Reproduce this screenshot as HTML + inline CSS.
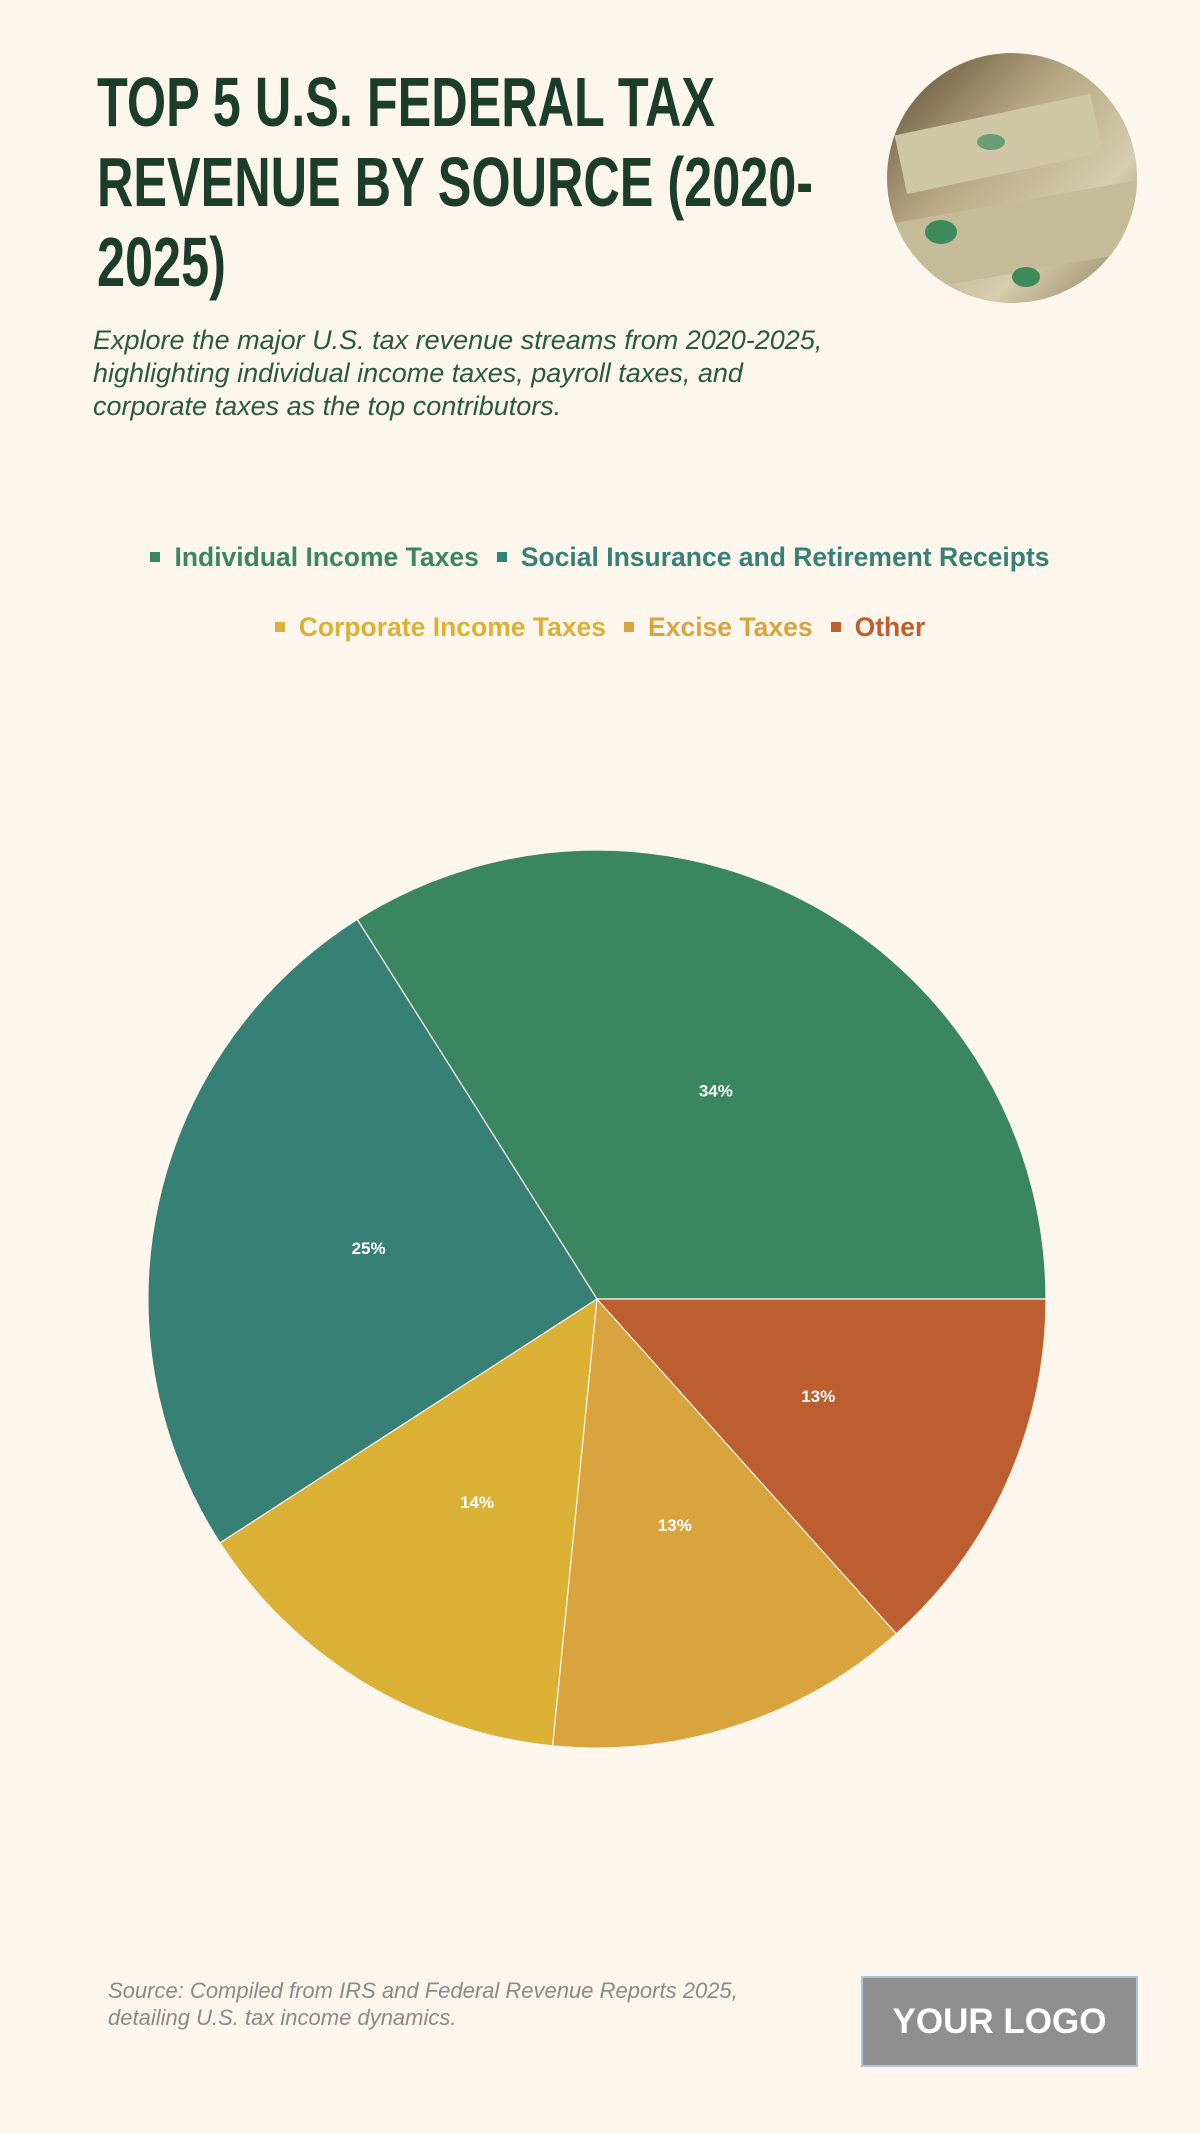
<!DOCTYPE html>
<html><head><meta charset="utf-8">
<style>
html,body{margin:0;padding:0;background:#fdf6ec;}
#page{position:relative;width:1200px;height:2133px;background:#fdf6ec;overflow:hidden;font-family:"Liberation Sans",sans-serif;}
#title{position:absolute;left:97px;top:62px;font-family:"Liberation Sans",sans-serif;font-weight:bold;font-size:70px;line-height:80px;color:#1d3d2b;margin:0;white-space:nowrap;transform:scaleX(0.72);transform-origin:0 0;}
#subtitle{position:absolute;left:93px;top:324px;width:760px;font-style:italic;font-size:27px;line-height:33px;color:#2a5a3e;margin:0;}
.leg{position:absolute;left:0;width:1200px;text-align:center;font-weight:bold;font-size:26.5px;white-space:nowrap;}
.leg span.sq{display:inline-block;width:10px;height:10px;margin-right:14px;vertical-align:middle;position:relative;top:-2px;}
#source{position:absolute;left:108px;top:1977px;font-style:italic;font-size:22px;line-height:27px;color:#8a8a8a;}
#logo{position:absolute;left:861px;top:1976px;width:273px;height:87px;background:#8f8f8f;border:2px solid #a9c4dc;color:#fff;font-weight:bold;font-size:35px;display:flex;align-items:center;justify-content:center;}
</style></head><body>
<div id="page">
<h1 id="title">TOP 5 U.S. FEDERAL TAX<br>REVENUE BY SOURCE (2020-<br>2025)</h1>
<svg style="position:absolute;left:886px;top:52px" width="252" height="252">
<defs><clipPath id="cc"><circle cx="126" cy="126" r="125"/></clipPath>
<linearGradient id="mg" x1="0" y1="0" x2="1" y2="1"><stop offset="0" stop-color="#5a4a32"/><stop offset="0.4" stop-color="#b8aa86"/><stop offset="0.7" stop-color="#d6ccae"/><stop offset="1" stop-color="#8a7a58"/></linearGradient></defs>
<g clip-path="url(#cc)"><rect width="252" height="252" fill="url(#mg)"/>
<rect x="20" y="60" width="200" height="60" fill="#cfc6a6" transform="rotate(-12 126 126)"/>
<rect x="0" y="150" width="252" height="70" fill="#c4bb98" transform="rotate(-10 126 126)"/>
<ellipse cx="55" cy="180" rx="16" ry="12" fill="#3f8a5a"/><ellipse cx="140" cy="225" rx="14" ry="10" fill="#3f8a5a"/>
<ellipse cx="105" cy="90" rx="14" ry="8" fill="#6a9c78"/></g></svg>
<p id="subtitle">Explore the major U.S. tax revenue streams from 2020-2025, highlighting individual income taxes, payroll taxes, and corporate taxes as the top contributors.</p>
<div id="legend"></div>
<svg id="chart" style="position:absolute;left:0;top:0" width="1200" height="2133"></svg>
<div id="source">Source: Compiled from IRS and Federal Revenue Reports 2025,<br>detailing U.S. tax income dynamics.</div>
<div id="logo">YOUR LOGO</div>
</div>
<script>
const categories=["Individual Income Taxes","Social Insurance and Retirement Receipts","Corporate Income Taxes","Excise Taxes","Other"];
const values=[34,25.2,14.3,13.2,13.4];
const labels=["34%","25%","14%","13%","13%"];
const colors=["#3a8660","#378076","#dbb135","#d9a33d","#bc5e30"];
const cx=597,cy=1299,R=449;
const svg=document.getElementById('chart');
const NS='http://www.w3.org/2000/svg';
const total=values.reduce((a,b)=>a+b,0);
function pt(a,r){return [cx+r*Math.cos(a),cy-r*Math.sin(a)];}
let a0=0;
values.forEach((v,i)=>{
  const a1=a0+v/total*2*Math.PI;
  const p0=pt(a0,R),p1=pt(a1,R);
  const large=(a1-a0)>Math.PI?1:0;
  const p=document.createElementNS(NS,'path');
  p.setAttribute('d',`M${cx},${cy} L${p0[0]},${p0[1]} A${R},${R} 0 ${large} 0 ${p1[0]},${p1[1]} Z`);
  p.setAttribute('fill',colors[i]);p.setAttribute('stroke','#fdf6ec');p.setAttribute('stroke-width','1.2');
  
  
  svg.appendChild(p);
  const m=(a0+a1)/2,lp=pt(m,R*0.53);
  const t=document.createElementNS(NS,'text');
  t.setAttribute('x',lp[0]+4);t.setAttribute('y',lp[1]+6);t.setAttribute('text-anchor','middle');
  t.setAttribute('fill','#fff');t.setAttribute('font-weight','bold');t.setAttribute('font-size','17');
  t.setAttribute('font-family','Liberation Sans, sans-serif');
  
  
  t.textContent=labels[i];svg.appendChild(t);
  a0=a1;
});
const legend=document.getElementById('legend');
const rows=[[0,1],[2,3,4]];const rowY=[542,612];
rows.forEach((r,ri)=>{
  const row=document.createElement('div');
  row.className='leg';row.style.top=rowY[ri]+'px';
  
  
  r.forEach((i,k)=>{
    const e=document.createElement('span');
    e.style.color=colors[i];e.style.margin='0 9px';
    
    
    e.innerHTML='<span class="sq" style="background:'+colors[i]+'"></span>'+categories[i];
    row.appendChild(e);
  });
  legend.appendChild(row);
});
</script>
</body></html>
